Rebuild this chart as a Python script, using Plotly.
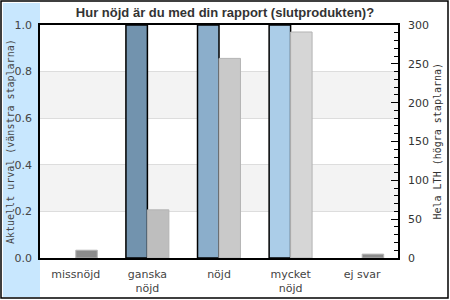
import plotly.graph_objects as go

categories = ["missnöjd", "ganska<br>nöjd", "nöjd", "mycket<br>nöjd", "ej svar"]
urval_values = [0, 1, 1, 1, 0]          # left axis (Aktuellt urval)
lth_values = [10, 62, 257, 291, 5]      # right axis (Hela LTH)
left_colors = ["#7293AE", "#7293AE", "#8BAECB", "#ABCDE8", "#7293AE"]
right_colors = ["#8C8C8C", "#BEBEBE", "#C9C9C9", "#D6D6D6", "#8C8C8C"]
left_ticks = [0.0, 0.2, 0.4, 0.6, 0.8, 1.0]
right_ticks = [0, 50, 100, 150, 200, 250, 300]
left_title = "Aktuellt urval (vänstra staplarna)"
right_title = "Hela LTH (högra staplarna)"

left_line_w = [1.5 if v else 0 for v in urval_values]

PW, PH = 358, 233  # plot area size in px

fig = go.Figure()
fig.add_trace(go.Bar(
    x=categories, y=urval_values, yaxis="y",
    width=0.3, offset=-0.3,
    marker=dict(color=left_colors, line=dict(color="#000000", width=left_line_w)),
    showlegend=False, hoverinfo="skip",
))
fig.add_trace(go.Bar(
    x=categories, y=lth_values, yaxis="y2",
    width=0.3, offset=0.0,
    marker=dict(color=right_colors, line=dict(color="#B4B4B4", width=1)),
    showlegend=False, hoverinfo="skip",
))

shapes = [
    dict(type="rect", xref="paper", yref="paper", x0=-37/PW, x1=0, y0=-39/PH, y1=1+22/PH,
         fillcolor="#C8E7FE", line=dict(width=0), layer="below"),
    dict(type="rect", xref="paper", yref="paper", x0=-39/PW, x1=1+50/PW, y0=-40/PH, y1=1+24/PH,
         fillcolor="rgba(0,0,0,0)", line=dict(color="#000000", width=1.5), layer="above"),
]
for lo, hi in [(0.2, 0.4), (0.6, 0.8)]:
    shapes.append(dict(type="rect", xref="x domain", yref="y", x0=0, x1=1, y0=lo, y1=hi,
                       fillcolor="#F3F3F3", line=dict(width=0), layer="below"))

annotations = [
    dict(text=left_title, xref="paper", yref="paper", x=(10.5-40)/PW, y=0.5,
         xanchor="center", yanchor="middle", textangle=-90, showarrow=False,
         font=dict(family="DejaVu Sans Mono", size=10, color="#444444")),
    dict(text=right_title, xref="paper", yref="paper", x=(437-40)/PW, y=0.5,
         xanchor="center", yanchor="middle", textangle=-90, showarrow=False,
         font=dict(family="DejaVu Sans Mono", size=10, color="#333333")),
]

fig.update_layout(
    width=450, height=300,
    margin=dict(l=40, r=52, t=25, b=42, autoexpand=False),
    paper_bgcolor="#FFFFFF", plot_bgcolor="#FFFFFF",
    title=dict(text="<b>Hur nöjd är du med din rapport (slutprodukten)?</b>",
               x=0.5, xanchor="center", y=1 - 12/300, yanchor="middle",
               font=dict(family="Liberation Sans", size=13, color="#333333")),
    barmode="overlay",
    shapes=shapes,
    annotations=annotations,
    xaxis=dict(showline=True, linecolor="#000000", linewidth=1.5, mirror=True, automargin=False,
               showgrid=False, ticks="", ticklabelstandoff=5,
               tickfont=dict(family="DejaVu Sans", size=11, color="#444444"),
               fixedrange=True),
    yaxis=dict(range=[0, 1], tickvals=left_ticks, tickformat=".1f", automargin=False,
               showline=True, linecolor="#000000", linewidth=1.5,
               showgrid=True, gridcolor="#DDDDDD", gridwidth=1, zeroline=False,
               ticks="outside", ticklen=4, tickcolor="rgba(0,0,0,0)",
               tickfont=dict(family="DejaVu Sans", size=11, color="#444444")),
    yaxis2=dict(range=[0, 300], tickvals=right_ticks, overlaying="y", side="right", automargin=False,
                showline=True, linecolor="#000000", linewidth=1.5, showgrid=False, zeroline=False,
                ticks="inside", ticklen=7, tickcolor="#000000", tickwidth=1,
                minor=dict(ticks="inside", ticklen=4, dtick=10, tickcolor="#000000", showgrid=False),
                ticklabelstandoff=6,
                tickfont=dict(family="DejaVu Sans", size=11, color="#333333")),
)

fig.write_html("out.html", config={"displayModeBar": False},
               post_script="document.body.style.margin='0';document.body.style.padding='0';")
